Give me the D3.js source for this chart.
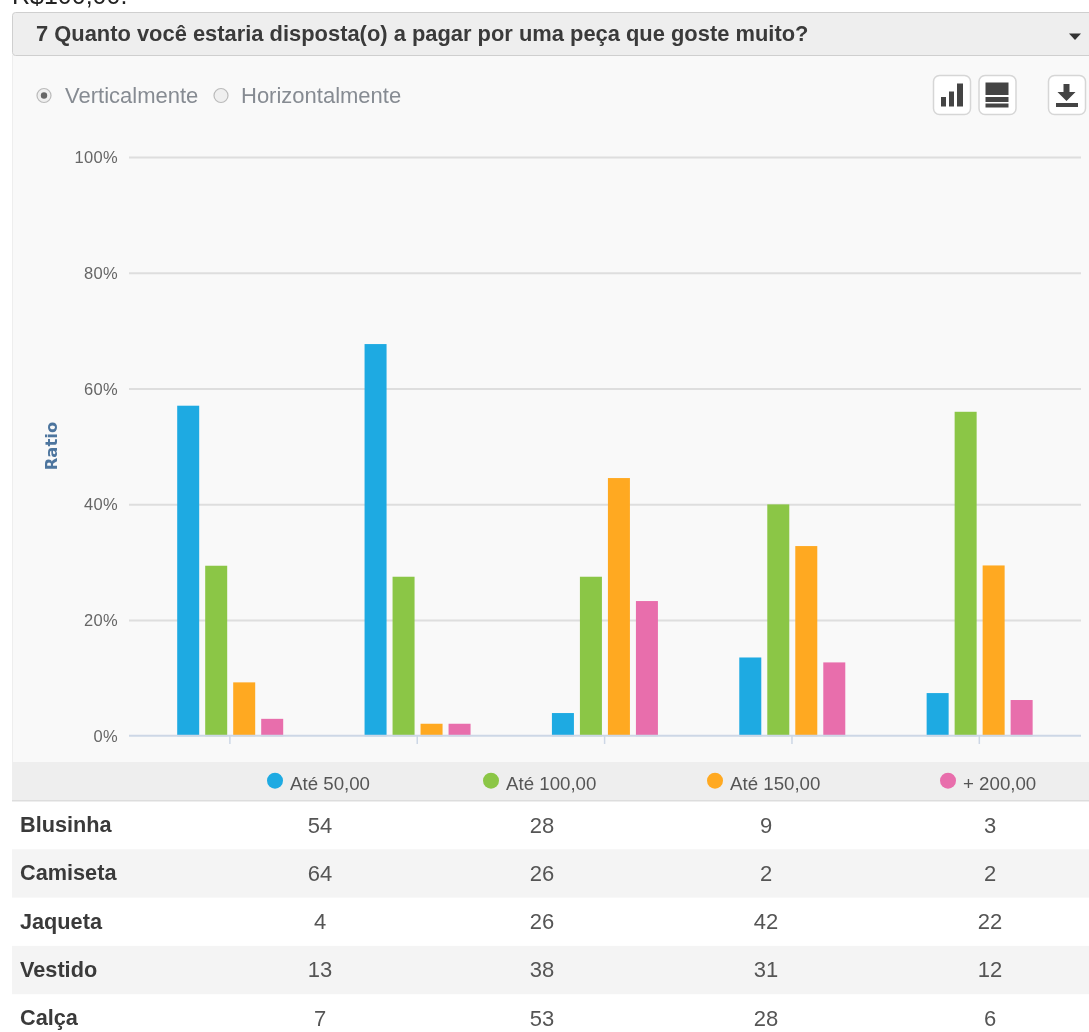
<!DOCTYPE html>
<html><head><meta charset="utf-8">
<script src="https://cdn.jsdelivr.net/npm/d3@7"></script>
<style>html,body{margin:0;padding:0;background:#fff}svg{display:block;filter:blur(0.45px)}text{font-family:"Liberation Sans",Arial,sans-serif}</style>
</head><body><svg id="c" width="1089" height="1032"></svg>
<script>
const categories = ["Blusinha","Camiseta","Jaqueta","Vestido","Calça"];
const seriesNames = ["Até 50,00","Até 100,00","Até 150,00","+ 200,00"];
const seriesColors = ["#1eaae2","#8bc646","#ffa921","#e86eac"];
// counts from the table
const ate50 = [54,64,4,13,7];
const ate100 = [28,26,26,38,53];
const ate150 = [9,2,42,31,28];
const mais200 = [3,2,22,12,6];
const seriesValues = [ate50,ate100,ate150,mais200];
// ratios (%)
const ratio50 = [57.1,67.75,4.0,13.6,7.45];
const ratio100 = [29.45,27.55,27.55,40.05,56.05];
const ratio150 = [9.3,2.15,44.6,32.85,29.5];
const ratio200 = [3.0,2.15,23.35,12.75,6.25];
const seriesRatios = [ratio50,ratio100,ratio150,ratio200];
const yTicks = [0,20,40,60,80,100];
const legendX = [275,491,715,948];
const colCenters = [320,542,766,990];

const svg = d3.select("#c");
const rect=(x,y,w,h,f)=>svg.append("rect").attr("x",x).attr("y",y).attr("width",w).attr("height",h).attr("fill",f);
const txt=(x,y,s,o={})=>svg.append("text").attr("x",x).attr("y",y).text(s)
  .attr("font-size",o.size||20).attr("fill",o.fill||"#555").attr("font-weight",o.weight||"normal").attr("text-anchor",o.anchor||"start");

// page fragment and header
txt(12,4,"R$100,00.",{size:25,fill:"#222"});
rect(12,55,1077,707,"#f9f9f9");
rect(12,55,1,707,"#eeeeee");
rect(12.5,12.5,1080,43,"#eeeeee").attr("stroke","#cfcfcf").attr("rx",3);
txt(36,41,"7 Quanto você estaria disposta(o) a pagar por uma peça que goste muito?",{size:21.9,weight:"bold",fill:"#3a3a3a"});
svg.append("path").attr("d","M1069 33.5h12l-6 6.5z").attr("fill","#333");

// radios
[[44,true],[221,false]].forEach(([cx,on])=>{
  svg.append("circle").attr("cx",cx).attr("cy",95.5).attr("r",7).attr("fill","#efefef").attr("stroke","#bbb").attr("stroke-width",1.2);
  if(on) svg.append("circle").attr("cx",cx).attr("cy",95.5).attr("r",3.2).attr("fill","#666");
});
txt(65,103,"Verticalmente",{size:22,fill:"#868b92"});
txt(241,103,"Horizontalmente",{size:22,fill:"#868b92"});

// tool buttons
[933.5,979,1048.5].forEach(x=>svg.append("rect").attr("x",x).attr("y",75.5).attr("width",37).attr("height",39).attr("rx",6).attr("fill","#fff").attr("stroke","#d6d6d6").attr("stroke-width",1.5));
svg.append("path").attr("fill","#444").attr("d","M941 97h5v9.5h-5zM949 91.5h5v15h-5zM957 83.5h6v23h-6z");
svg.append("path").attr("fill","#444").attr("d","M985.5 82.5h23v12.5h-23zM985.5 97h23v5h-23zM985.5 103.5h23v4h-23z");
svg.append("path").attr("fill","#444").attr("d","M1063.5 84h6v8h6l-9 9-9-9h6zM1056 103h22v4h-22z");

// chart
const y = d3.scaleLinear().domain([0,100]).range([736.2,157.4]);
const x0 = d3.scaleBand().domain(categories).range([136.2,1073]);
const x1 = d3.scaleBand().domain(seriesNames).range([41,147]).paddingInner(6/28);
yTicks.slice(1).forEach(t=>svg.append("line").attr("x1",129).attr("x2",1081).attr("y1",y(t)).attr("y2",y(t)).attr("stroke","#dedede").attr("stroke-width",2));
const yAxis = d3.axisLeft(y).tickValues(yTicks).tickFormat(d=>d+"%").tickSize(0).tickPadding(0);
const ga = svg.append("g").attr("transform","translate(118,0)").call(yAxis);
ga.select(".domain").remove();
ga.selectAll("text").attr("font-size",16.5).attr("fill","#666").attr("font-family","Liberation Sans").attr("letter-spacing",0.3);
txt(0,0,"Ratio",{size:16.5,weight:"bold",fill:"#4d759e",anchor:"middle"})
  .style("font-family","'DejaVu Sans'").attr("transform","translate(57,446) rotate(-90)");

seriesRatios.forEach((vals,si)=>{
  svg.append("g").selectAll("rect").data(vals).join("rect")
    .attr("x",(d,i)=>x0(categories[i])+x1(seriesNames[si]))
    .attr("width",x1.bandwidth())
    .attr("y",d=>y(d))
    .attr("height",d=>y(0)-y(d))
    .attr("fill",seriesColors[si]);
});
svg.append("line").attr("x1",129).attr("x2",1081).attr("y1",y(0)-0.5).attr("y2",y(0)-0.5).attr("stroke","#cdd7e6").attr("stroke-width",2);
const xAxis = d3.axisBottom(x0).tickSize(8).tickFormat("");
const gx = svg.append("g").attr("transform","translate(0,736)").call(xAxis);
gx.select(".domain").remove();
gx.selectAll("line").attr("stroke","#cdd7e6").attr("stroke-width",1.5);

// legend band
rect(12,762,1077,39,"#eeeeee");
rect(12,800,1077,1.5,"#dddddd");
seriesNames.forEach((n,i)=>{
  svg.append("circle").attr("cx",legendX[i]).attr("cy",780.7).attr("r",8).attr("fill",seriesColors[i]);
  txt(legendX[i]+15,790,n,{size:18.7,fill:"#555"});
});

// table
const rowH = 48.3;
categories.forEach((c,i)=>{
  const top = 801+i*rowH;
  if(i%2===1) rect(12,top,1077,rowH,"#f4f4f4");
  txt(20,top+31,c,{size:21.7,weight:"bold",fill:"#3a3a3a"});
  seriesValues.forEach((s,j)=>txt(colCenters[j],top+31.5,s[i],{size:22,fill:"#555",anchor:"middle"}));
});
</script></body></html>
